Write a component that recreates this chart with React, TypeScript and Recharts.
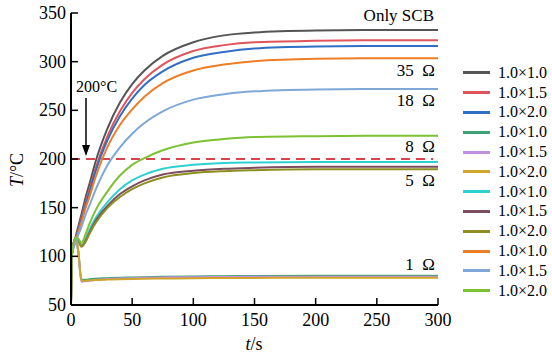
import { LineChart, Line, XAxis, YAxis, ReferenceLine } from 'recharts';

const times = [0, 0.5, 4, 6, 8.5, 12, 15, 20, 30, 40, 50, 60, 75, 100, 125, 150, 200, 250, 300];

// Only SCB
const scb10 = [50, 100, 121, 131, 143, 161, 174, 197, 232, 258, 277, 291, 306, 320, 327, 330, 332, 332.5, 332.5];
const scb15 = [50, 100, 119, 128, 139, 156, 168, 190, 224, 249, 268, 282, 297, 311, 317, 320, 321.5, 322, 322];
const scb20 = [50, 100, 118, 127, 137, 153, 165, 187, 220, 244, 262, 276, 290, 304, 310, 313.5, 315.5, 316, 316];
// 1 ohm
const r1a = [50, 100, 119, 105, 76, 76, 76.5, 77, 77.5, 78, 78.3, 78.6, 79, 79.3, 79.6, 79.8, 80, 80, 80];
const r1b = [50, 100, 119, 104, 74, 74.5, 75, 75.8, 76.6, 77.2, 77.6, 78, 78.3, 78.6, 78.8, 79, 79, 79, 79];
const r1c = [50, 100, 119, 104, 75, 75, 75.3, 75.7, 76.1, 76.5, 76.8, 77, 77.2, 77.5, 77.7, 77.8, 78, 78, 78];
// 5 ohm
const r5a = [50, 100, 119, 117, 111, 118, 127, 139, 156, 169, 178, 184, 190, 194, 196, 196.5, 197, 197, 197];
const r5b = [50, 100, 119, 117, 110, 116, 124, 136, 152, 164, 172, 178, 184, 188, 190, 191, 192, 192, 192];
const r5c = [50, 100, 119, 117, 110, 115, 123, 134, 150, 161, 169, 175, 181, 185.5, 187.5, 188.5, 189.5, 189.5, 189.5];
// 35 / 18 / 8 ohm
const r35 = [50, 100, 117, 125, 135, 150, 161, 181, 213, 235, 251, 264, 278, 291, 297, 300.5, 303, 303.5, 303.5];
const r18 = [50, 100, 115, 122, 130, 143, 152, 168, 194, 212, 226, 237, 249, 261, 266.5, 269.5, 271.5, 272, 272];
const r8 = [50, 100, 119, 118, 114, 123, 133, 147, 167, 183, 194, 201, 209, 217, 220.5, 222.5, 223.5, 224, 224];

const xTicks = [0, 50, 100, 150, 200, 250, 300];
const yTicks = [50, 100, 150, 200, 250, 300, 350];

const series = [
  { key: 's1', name: '1.0×1.0', color: '#555555', values: scb10 },
  { key: 's2', name: '1.0×1.5', color: '#e0545c', values: scb15 },
  { key: 's3', name: '1.0×2.0', color: '#2f6fc6', values: scb20 },
  { key: 's4', name: '1.0×1.0', color: '#3ea374', values: r1a },
  { key: 's5', name: '1.0×1.5', color: '#c18fe0', values: r1b },
  { key: 's6', name: '1.0×2.0', color: '#cfa52a', values: r1c },
  { key: 's7', name: '1.0×1.0', color: '#2fd0d0', values: r5a },
  { key: 's8', name: '1.0×1.5', color: '#7c4d5e', values: r5b },
  { key: 's9', name: '1.0×2.0', color: '#8e8f22', values: r5c },
  { key: 's10', name: '1.0×1.0', color: '#ee7d25', values: r35 },
  { key: 's11', name: '1.0×1.5', color: '#7ea8d8', values: r18 },
  { key: 's12', name: '1.0×2.0', color: '#7cc232', values: r8 },
];

const data = times.map((t, i) => {
  const row: Record<string, number> = { t };
  series.forEach((s) => { row[s.key] = s.values[i]; });
  return row;
});

const FONT = "'Liberation Serif', 'Times New Roman', 'DejaVu Serif', serif";

const XTick = ({ x, y, payload }: any) => (
  <g>
    <line x1={x} x2={x} y1={y} y2={y - 7} stroke="#000" strokeWidth={1.5} />
    <text x={x} y={y + 21} textAnchor="middle" fontFamily={FONT} fontSize={18} fill="#000">{payload.value}</text>
  </g>
);

const YTick = ({ x, y, payload }: any) => (
  <g>
    <line x1={x} x2={x + 7} y1={y} y2={y} stroke="#000" strokeWidth={1.5} />
    <text x={x - 5} y={y + 6} textAnchor="end" fontFamily={FONT} fontSize={18} fill="#000">{payload.value}</text>
  </g>
);

export default function App() {
  return (
    <div style={{ position: 'absolute', left: 0, top: 0, width: 552, height: 354, background: '#fff', fontFamily: FONT }}>
      <LineChart width={552} height={354} data={data} margin={{ top: 13, right: 114, left: 0, bottom: 0 }} style={{ fontFamily: FONT }}>
        <XAxis
          dataKey="t"
          type="number"
          domain={[0, 300]}
          ticks={xTicks}
          height={49}
          tickSize={0}
          tickMargin={0}
          tickLine={false}
          axisLine={{ stroke: '#000', strokeWidth: 2 }}
          tick={<XTick />}
        />
        <YAxis
          type="number"
          domain={[50, 350]}
          ticks={yTicks}
          width={71}
          tickSize={0}
          tickMargin={0}
          tickLine={false}
          axisLine={{ stroke: '#000', strokeWidth: 2 }}
          tick={<YTick />}
        />
        <ReferenceLine
          segment={[{ x: 0, y: 200 }, { x: 296, y: 200 }]}
          stroke="#d8434e"
          strokeWidth={2}
          strokeDasharray="9 6"
          ifOverflow="visible"
        />
        {series.map((s) => (
          <Line
            key={s.key}
            dataKey={s.key}
            name={s.name}
            type="monotone"
            stroke={s.color}
            strokeWidth={2}
            dot={false}
            isAnimationActive={false}
          />
        ))}
      </LineChart>
      <div style={{ position: 'absolute', left: 463, top: 63, fontFamily: FONT, fontSize: 16, color: '#000' }}>
        {series.map((s) => (
          <div key={s.key} style={{ display: 'flex', alignItems: 'center', height: 19.8 }}>
            <span style={{ display: 'inline-block', width: 27, height: 3, background: s.color, marginRight: 8 }} />
            <span>{s.name}</span>
          </div>
        ))}
      </div>
      <svg width={552} height={354} fontFamily={FONT} style={{ position: 'absolute', left: 0, top: 0, pointerEvents: 'none' }}>
        <text x={434} y={21} textAnchor="end" fontSize={17}>Only SCB</text>
        <text x={435} y={76} textAnchor="end" fontSize={17} xmlSpace="preserve">35  Ω</text>
        <text x={435} y={106} textAnchor="end" fontSize={17} xmlSpace="preserve">18  Ω</text>
        <text x={435} y={152} textAnchor="end" fontSize={17} xmlSpace="preserve">8  Ω</text>
        <text x={435} y={186} textAnchor="end" fontSize={17} xmlSpace="preserve">5  Ω</text>
        <text x={435} y={270} textAnchor="end" fontSize={17} xmlSpace="preserve">1  Ω</text>
        <text x={76} y={92} fontSize={16}>200°C</text>
        <line x1={86} x2={86} y1={98} y2={148} stroke="#000" strokeWidth={1.5} />
        <polygon points="82,145 90,145 86,156" fill="#000" />
        <text transform="translate(23,170) rotate(-90)" textAnchor="middle" fontSize={18}>
          <tspan fontStyle="italic">T</tspan>/°C
        </text>
        <text x={254} y={350} textAnchor="middle" fontSize={18}>
          <tspan fontStyle="italic">t</tspan>/s
        </text>
      </svg>
    </div>
  );
}
